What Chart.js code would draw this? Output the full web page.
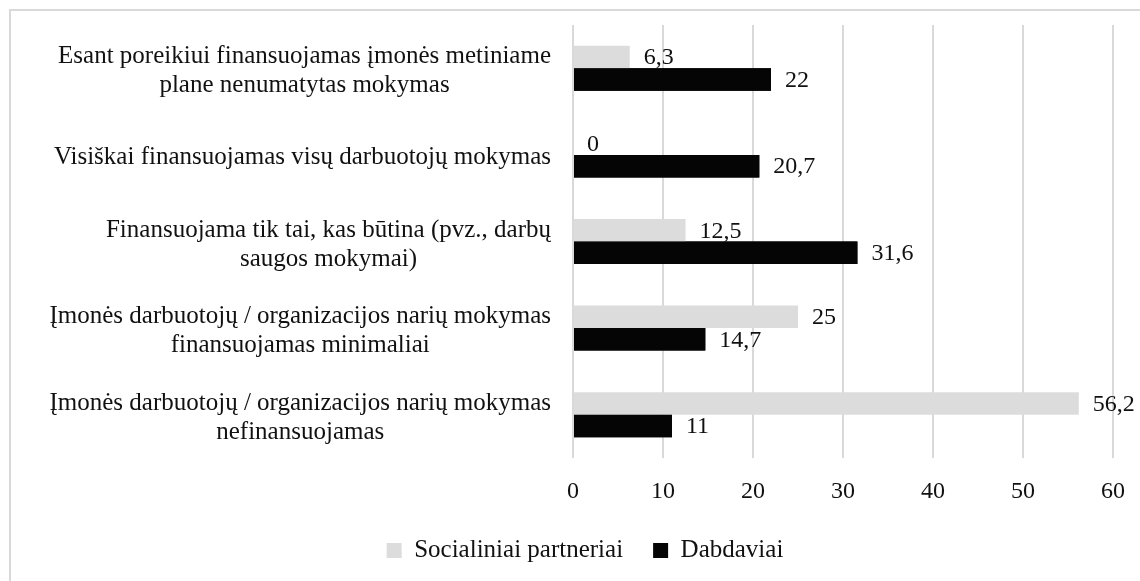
<!DOCTYPE html>
<html lang="lt">
<head>
<meta charset="UTF-8">
<title>Mokymo finansavimas</title>
<script src="https://cdn.jsdelivr.net/npm/chart.js@4"></script>
<style>
  html, body { margin: 0; padding: 0; background: #fff; }
  .wrap { position: relative; width: 1140px; height: 581px; overflow: hidden; }
  .frame {
    position: absolute; left: 9px; top: 9px; width: 1200px; height: 700px;
    border: 2px solid #d9d9d9; box-sizing: border-box;
  }
  canvas { position: absolute; left: 0; top: 0; }
</style>
</head>
<body>
<div class="wrap">
  <div class="frame"></div>
  <canvas id="chart" width="1140" height="581"></canvas>
</div>
<script>
// Data
const categories = [
  ['Esant poreikiui finansuojamas įmonės metiniame', 'plane nenumatytas mokymas'],
  ['Visiškai finansuojamas visų darbuotojų mokymas'],
  ['Finansuojama tik tai, kas būtina (pvz., darbų', 'saugos mokymai)'],
  ['Įmonės darbuotojų / organizacijos narių mokymas', 'finansuojamas minimaliai'],
  ['Įmonės darbuotojų / organizacijos narių mokymas', 'nefinansuojamas']
];
const seriesNames = ['Socialiniai partneriai', 'Dabdaviai'];
const socialiniai = [6.3, 0, 12.5, 25, 56.2];
const dabdaviai = [22, 20.7, 31.6, 14.7, 11];
const xTicks = [0, 10, 20, 30, 40, 50, 60];

const FONT = '"Liberation Serif", "Times New Roman", serif';
const SIZE = 24;       // ticks and value labels
const LABEL_SIZE = 25; // category labels and legend
const TEXT = '#111';

const fmt = v => String(v).replace('.', ',');

// y labels: block right-aligned at the axis, lines centred within the block
const yLabelPlugin = {
  id: 'yLabels',
  afterDraw(chart) {
    const { ctx } = chart;
    const yScale = chart.scales.y;
    const lineH = 29;
    const right = chart.chartArea.left - 22;
    ctx.save();
    ctx.font = `${LABEL_SIZE}px ${FONT}`;
    ctx.fillStyle = TEXT;
    ctx.textAlign = 'center';
    ctx.textBaseline = 'middle';
    categories.forEach((lines, i) => {
      const y = yScale.getPixelForTick(i) + 3;
      const w = Math.max(...lines.map(l => ctx.measureText(l).width));
      const cx = right - w / 2;
      const y0 = y - (lines.length - 1) * lineH / 2;
      lines.forEach((l, k) => ctx.fillText(l, cx, y0 + k * lineH));
    });
    ctx.restore();
  }
};

// value labels; grey labels sit under the black bars like in the original
const valueLabelPlugin = {
  id: 'valueLabels',
  afterDatasetsDraw(chart) {
    const { ctx } = chart;
    const drawLabels = (di) => {
      const meta = chart.getDatasetMeta(di);
      const data = chart.data.datasets[di].data;
      ctx.save();
      ctx.font = `${SIZE}px ${FONT}`;
      ctx.fillStyle = TEXT;
      ctx.textAlign = 'left';
      ctx.textBaseline = 'middle';
      meta.data.forEach((bar, i) => {
        ctx.fillText(fmt(data[i]), bar.x + 14, bar.y + 1);
      });
      ctx.restore();
    };
    drawLabels(0);
    // redraw black bars on top of the grey labels
    chart.getDatasetMeta(1).data.forEach(el => el.draw(ctx));
    drawLabels(1);
  }
};

new Chart(document.getElementById('chart'), {
  type: 'bar',
  data: {
    labels: categories,
    datasets: [
      {
        label: seriesNames[0],
        data: socialiniai,
        backgroundColor: '#dcdcdc',
        categoryPercentage: 0.52,
        barPercentage: 1.0
      },
      {
        label: seriesNames[1],
        data: dabdaviai,
        backgroundColor: '#050505',
        categoryPercentage: 0.52,
        barPercentage: 1.0
      }
    ]
  },
  options: {
    indexAxis: 'y',
    responsive: false,
    animation: false,
    events: [],
    layout: { padding: { top: 25, right: 0, bottom: 8, left: 30 } },
    scales: {
      x: {
        min: 0,
        max: 60,
        afterBuildTicks: scale => { scale.ticks = xTicks.map(v => ({ value: v })); },
        afterFit: scale => {
          scale.height = 50;
          scale.paddingRight = 27;
        },
        grid: { color: '#d9d9d9', lineWidth: 2, drawTicks: false },
        border: { display: false },
        ticks: {
          padding: 19,
          color: TEXT,
          font: { family: FONT, size: SIZE }
        }
      },
      y: {
        afterFit: scale => { scale.width = 543; },
        grid: { display: false },
        border: { display: false },
        ticks: { callback: () => '', font: { size: 1 } }
      }
    },
    plugins: {
      legend: {
        position: 'bottom',
        labels: {
          boxWidth: 15,
          boxHeight: 15,
          padding: 30,
          color: TEXT,
          font: { family: FONT, size: LABEL_SIZE }
        }
      },
      tooltip: { enabled: false }
    }
  },
  plugins: [yLabelPlugin, valueLabelPlugin]
});
</script>
</body>
</html>
